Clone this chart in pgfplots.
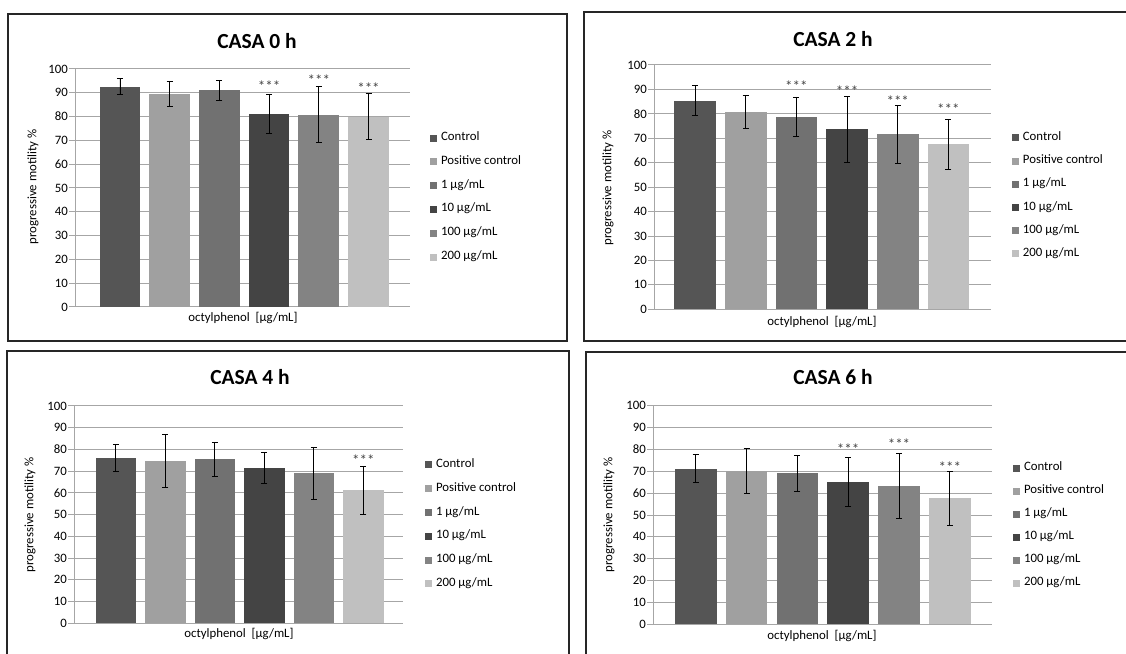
\documentclass[border=0pt]{standalone}
\usepackage{pgfplots}
\pgfplotsset{compat=1.18}
\usepackage{fontspec}
\setmainfont{Carlito}
\definecolor{cA}{HTML}{555555}
\definecolor{cB}{HTML}{A0A0A0}
\definecolor{cC}{HTML}{717171}
\definecolor{cD}{HTML}{444444}
\definecolor{cE}{HTML}{838383}
\definecolor{cF}{HTML}{C0C0C0}
\definecolor{gridc}{HTML}{A6A6A6}
\definecolor{starc}{HTML}{444444}
\newcommand{\lf}{\fontsize{12.8}{15}\selectfont}
\tikzset{star/.style={font=\fontsize{15}{17}\selectfont, text=starc, anchor=base, yshift=-6pt, inner sep=0pt}}
\pgfplotsset{
  legsq/.style={legend image code/.code={\fill[##1, draw=none] (0pt,-3.5pt) rectangle (7pt,3.5pt);}},
  casa/.style={
    scale only axis, anchor=south west,
    ymin=0, ymax=100, ytick={0,10,...,100}, xtick=\empty,
    axis lines*=left,
    axis line style={draw=gridc, line width=1pt},
    ymajorgrids, grid style={draw=gridc, line width=1pt},
    tick align=outside, major tick length=6pt,
    ytick style={draw=gridc, line width=1pt},
    /pgf/number format/assume math mode=true,
    tick label style={font=\lf, text=black},
    yticklabel style={inner xsep=1pt},
    ybar, bar width=0.82, bar shift=0pt,
    error bars/y dir=both, error bars/y explicit,
    error bars/error bar style={black, line width=0.9pt},
    error bars/error mark options={rotate=90, mark size=3pt, black, line width=0.9pt},
    legend cell align=left,
    legend style={draw=none, fill=none, inner sep=0pt, outer sep=0pt,
      anchor=north west, font=\lf, row sep=12.8pt, column sep=4pt,
      nodes={inner sep=0pt, text height=8pt, text depth=3pt}},
    clip=false,
  },
}
\newcommand{\lege}{\legend{Control, Positive control, 1 µg/mL, 10 µg/mL, 100 µg/mL, 200 µg/mL}}
\begin{document}
\begin{tikzpicture}[x=1pt,y=1pt]
\path[use as bounding box] (0,0) rectangle (1126,653);
% frames
\draw[line width=2pt, black!85] (8,639) rectangle (567,312);
\draw[line width=2pt, black!85] (1130,641) -- (584,641) -- (584,312) -- (1130,312);
\draw[line width=2pt, black!85] (7,-5) -- (7,302) -- (569,302) -- (569,-5);
\draw[line width=2pt, black!85] (586,-5) -- (586,301) -- (1130,301);
% titles and labels
\node[font=\fontsize{21.5}{25}\selectfont\bfseries] at (257,612) {CASA 0 h};
\node[font=\fontsize{21.5}{25}\selectfont\bfseries] at (833,614) {CASA 2 h};
\node[font=\fontsize{21.5}{25}\selectfont\bfseries] at (250,276) {CASA 4 h};
\node[font=\fontsize{21.5}{25}\selectfont\bfseries] at (833,276) {CASA 6 h};
\node[font=\lf, rotate=90] at (33,466) {progressive motility \%};
\node[font=\lf, rotate=90] at (608,465) {progressive motility \%};
\node[font=\lf, rotate=90] at (30,138) {progressive motility \%};
\node[font=\lf, rotate=90] at (609,138) {progressive motility \%};
\node[font=\lf] at (243,335) {octylphenol\ \ [µg/mL]};
\node[font=\lf] at (822,331) {octylphenol\ \ [µg/mL]};
\node[font=\lf] at (239,19) {octylphenol\ \ [µg/mL]};
\node[font=\lf] at (822,17) {octylphenol\ \ [µg/mL]};

% Panel 1
\begin{axis}[casa, at={(75pt,346pt)}, width=335pt, height=238pt, xmin=-0.905, xmax=5.835,
  legend style={at={(rel axis cs:1.06,0.733)}}]
\addplot[fill=cA, draw=none, legsq] coordinates {(0,92.6) +- (0,3.5)};
\addplot[fill=cB, draw=none, legsq] coordinates {(1,89.5) +- (0,5.1)};
\addplot[fill=cC, draw=none, legsq] coordinates {(2,91.0) +- (0,4.2)};
\addplot[fill=cD, draw=none, legsq] coordinates {(3,81.2) +- (0,8.3)};
\addplot[fill=cE, draw=none, legsq] coordinates {(4,80.8) +- (0,11.8)};
\addplot[fill=cF, draw=none, legsq] coordinates {(5,80.0) +- (0,9.7)};
\lege
\node[star] at (axis cs:3,93.0) {***};
\node[star] at (axis cs:4,95.4) {***};
\node[star] at (axis cs:5,92.3) {***};
\end{axis}

% Panel 2
\begin{axis}[casa, at={(654pt,343.7pt)}, width=337pt, height=244.3pt, xmin=-0.81, xmax=5.84,
  legend style={at={(rel axis cs:1.062,0.724)}, row sep=12.2pt}]
\addplot[fill=cA, draw=none, legsq] coordinates {(0,85.4) +- (0,6.1)};
\addplot[fill=cB, draw=none, legsq] coordinates {(1,80.8) +- (0,6.8)};
\addplot[fill=cC, draw=none, legsq] coordinates {(2,78.9) +- (0,8.0)};
\addplot[fill=cD, draw=none, legsq] coordinates {(3,73.7) +- (0,13.4)};
\addplot[fill=cE, draw=none, legsq] coordinates {(4,71.6) +- (0,12.0)};
\addplot[fill=cF, draw=none, legsq] coordinates {(5,67.5) +- (0,10.2)};
\lege
\node[star] at (axis cs:2,91.8) {***};
\node[star] at (axis cs:3,89.5) {***};
\node[star] at (axis cs:4,85.4) {***};
\node[star] at (axis cs:5,82.3) {***};
\end{axis}

% Panel 3
\begin{axis}[casa, at={(74pt,29.7pt)}, width=329pt, height=217.3pt, xmin=-0.845, xmax=5.80,
  legend style={at={(rel axis cs:1.067,0.754)}}]
\addplot[fill=cA, draw=none, legsq] coordinates {(0,75.9) +- (0,6.2)};
\addplot[fill=cB, draw=none, legsq] coordinates {(1,74.8) +- (0,12.3)};
\addplot[fill=cC, draw=none, legsq] coordinates {(2,75.5) +- (0,7.7)};
\addplot[fill=cD, draw=none, legsq] coordinates {(3,71.3) +- (0,7.1)};
\addplot[fill=cE, draw=none, legsq] coordinates {(4,69.0) +- (0,12.0)};
\addplot[fill=cF, draw=none, legsq] coordinates {(5,61.3) +- (0,11.0)};
\lege
\node[star] at (axis cs:5,75.2) {***};
\end{axis}

% Panel 4
\begin{axis}[casa, at={(653pt,28.7pt)}, width=339pt, height=218.6pt, xmin=-0.84, xmax=5.83,
  legend style={at={(rel axis cs:1.062,0.740)}, row sep=12pt}]
\addplot[fill=cA, draw=none, legsq] coordinates {(0,71.2) +- (0,6.5)};
\addplot[fill=cB, draw=none, legsq] coordinates {(1,70.1) +- (0,10.2)};
\addplot[fill=cC, draw=none, legsq] coordinates {(2,69.1) +- (0,8.2)};
\addplot[fill=cD, draw=none, legsq] coordinates {(3,65.1) +- (0,11.3)};
\addplot[fill=cE, draw=none, legsq] coordinates {(4,63.3) +- (0,14.8)};
\addplot[fill=cF, draw=none, legsq] coordinates {(5,57.6) +- (0,12.3)};
\lege
\node[star] at (axis cs:3,80.2) {***};
\node[star] at (axis cs:4,82.5) {***};
\node[star] at (axis cs:5,72.1) {***};
\end{axis}
\end{tikzpicture}
\end{document}
